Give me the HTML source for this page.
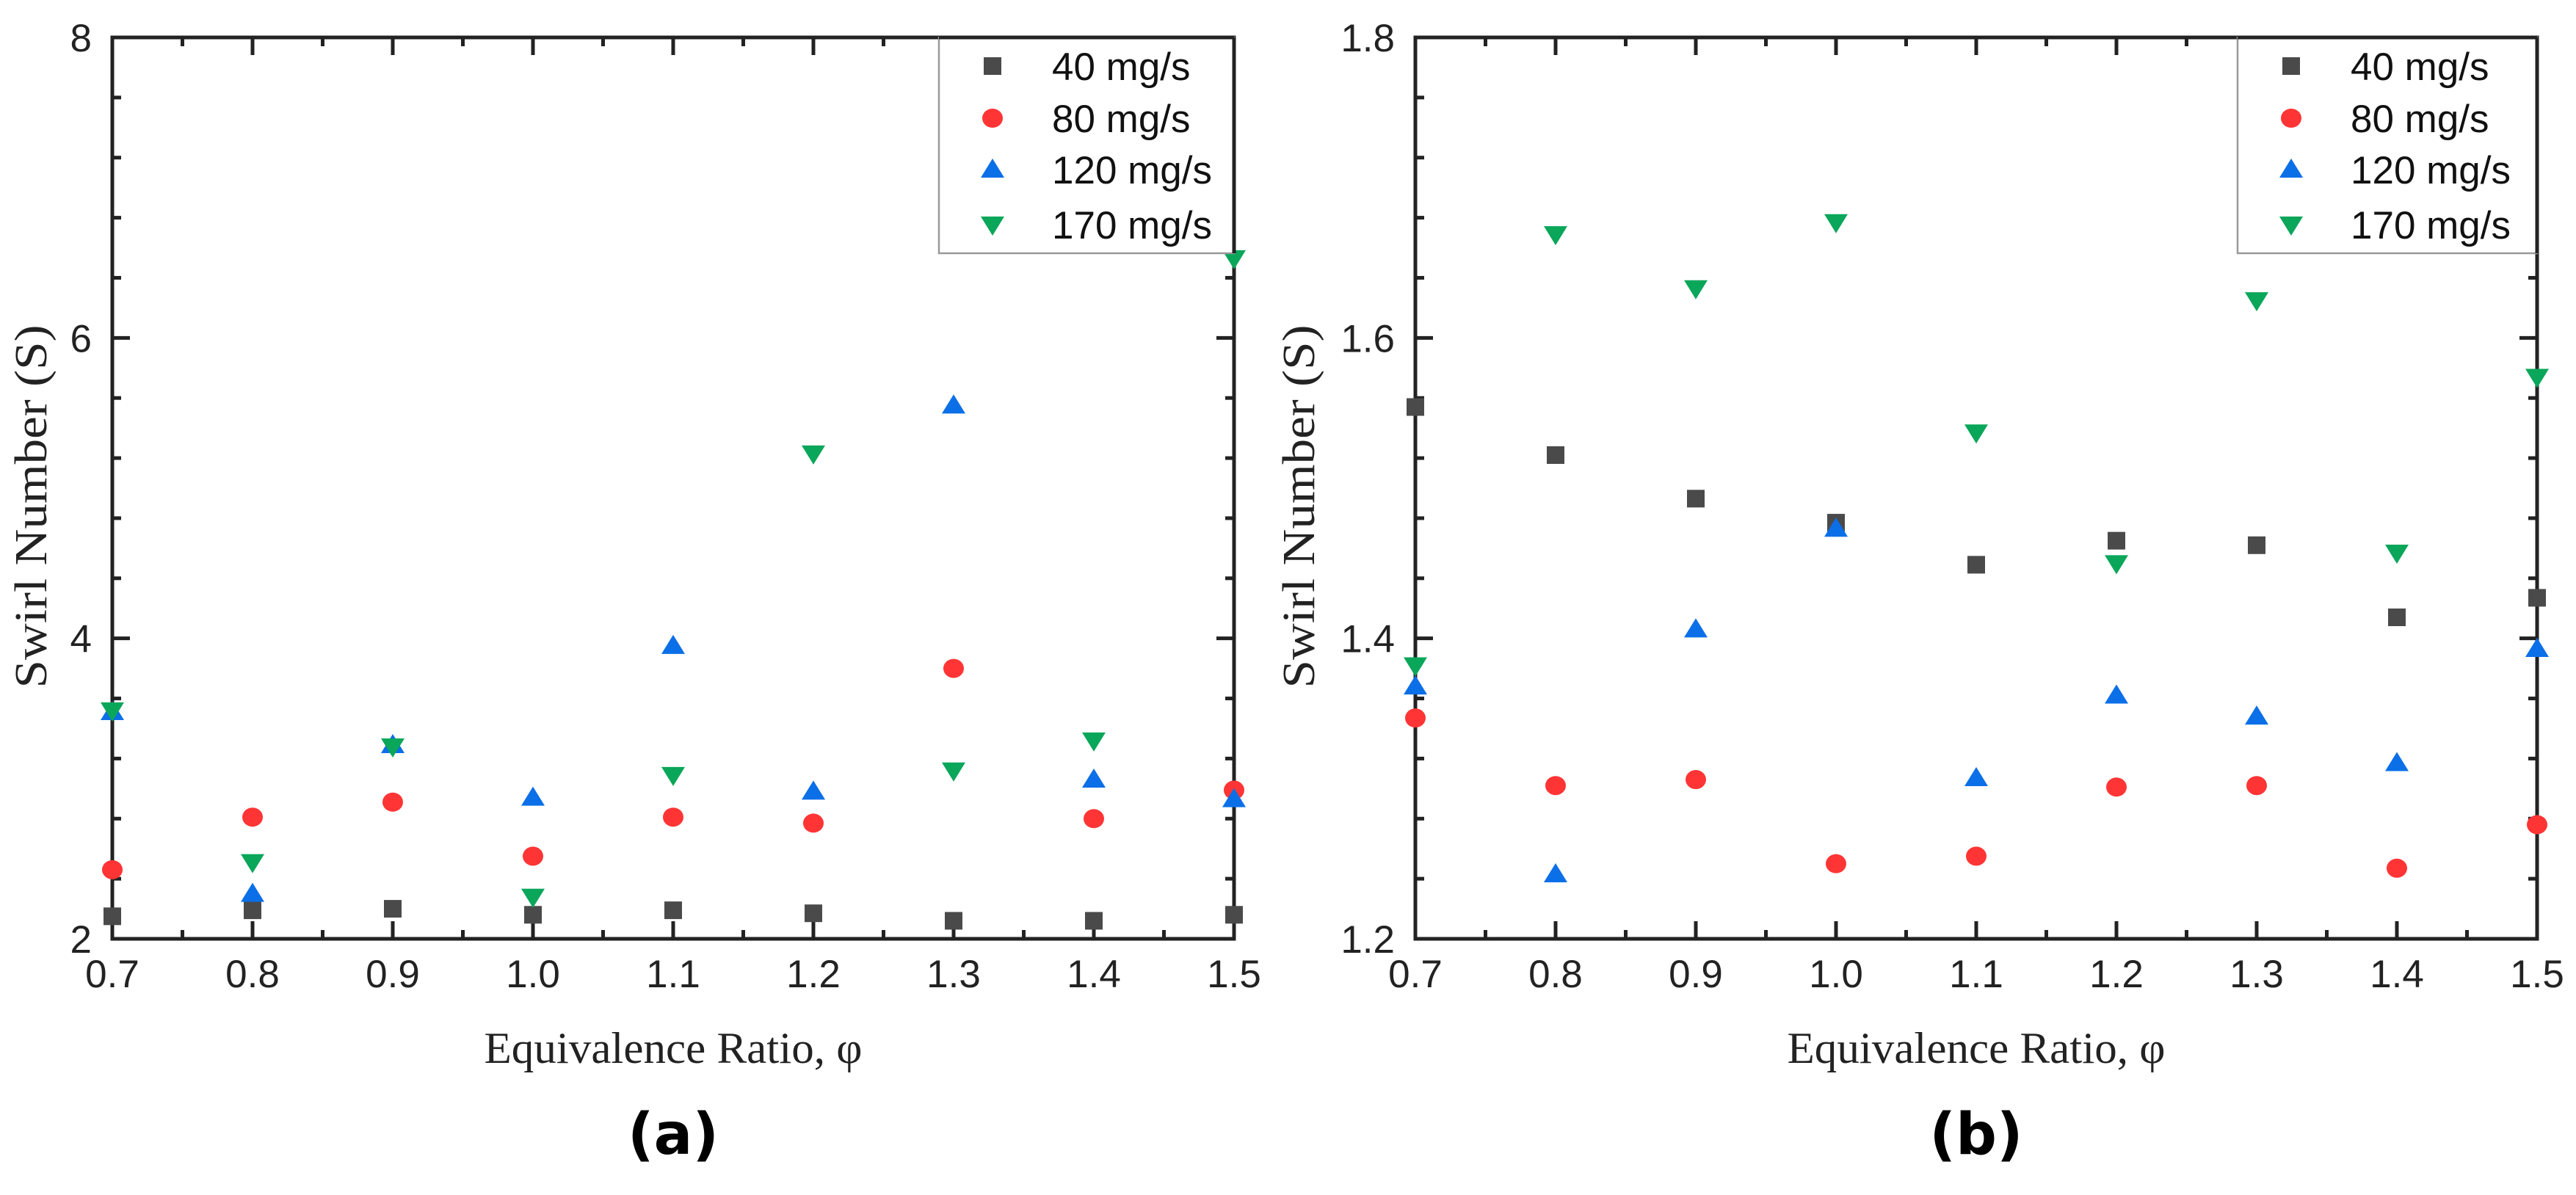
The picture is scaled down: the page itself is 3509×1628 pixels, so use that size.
<!DOCTYPE html>
<html><head><meta charset="utf-8"><style>
html,body{margin:0;padding:0;background:#fff;}
svg{display:block;}
</style></head><body>
<svg id="fig" width="3509" height="1628" viewBox="0 0 3509 1628" xmlns="http://www.w3.org/2000/svg"></svg>
<script>
const categories = [0.7,0.8,0.9,1.0,1.1,1.2,1.3,1.4,1.5];
const xTickLabels = ["0.7","0.8","0.9","1.0","1.1","1.2","1.3","1.4","1.5"];
const seriesNames = ["40 mg/s","80 mg/s","120 mg/s","170 mg/s"];
const aS40  = [2.15,2.19,2.20,2.16,2.19,2.17,2.12,2.12,2.16];
const aS80  = [2.46,2.81,2.91,2.55,2.81,2.77,3.80,2.80,2.99];
const aS120 = [3.51,2.30,3.29,2.94,3.95,2.98,5.55,3.06,2.93];
const aS170 = [3.52,2.51,3.28,2.28,3.09,5.23,3.12,3.32,6.53];
const bS40  = [1.554,1.522,1.493,1.477,1.449,1.465,1.462,1.414,1.427];
const bS80  = [1.347,1.302,1.306,1.250,1.255,1.301,1.302,1.247,1.276];
const bS120 = [1.368,1.243,1.406,1.473,1.307,1.362,1.348,1.317,1.393];
const bS170 = [1.382,1.669,1.633,1.677,1.537,1.450,1.625,1.457,1.574];
const aYTicks = [2,4,6,8];
const aYTickLabels = ["2","4","6","8"];
const bYTicks = [1.2,1.4,1.6,1.8];
const bYTickLabels = ["1.2","1.4","1.6","1.8"];

const NS="http://www.w3.org/2000/svg";
const svg=document.getElementById('fig');
const colors=["#4a4a4a","#ff3535","#0b6fe8","#0aa65a"];
function mk(tag,attrs,parent){const e=document.createElementNS(NS,tag);for(const k in attrs)e.setAttribute(k,attrs[k]);(parent||svg).appendChild(e);return e;}

function marker(g,type,cx,cy,color){
  let e;
  if(type===0){e=mk('rect',{x:cx-12,y:cy-12,width:24,height:24,fill:color},g);}
  else if(type===1){e=mk('ellipse',{cx:cx,cy:cy,rx:14,ry:13,fill:color},g);}
  else if(type===2){e=mk('polygon',{points:`${cx-16},${cy+11} ${cx+16},${cy+11} ${cx},${cy-15}`,fill:color},g);}
  else {e=mk('polygon',{points:`${cx-16},${cy-11} ${cx+16},${cy-11} ${cx},${cy+15}`,fill:color},g);}
  return e;
}

function panel(o){
  const g=mk('g',{});
  
  
  const X=v=>o.x0+(v-0.7)/0.8*(o.x1-o.x0);
  const Y=v=>o.yb-(v-o.ymin)/(o.ymax-o.ymin)*(o.yb-o.yt);
  const fr=mk('rect',{x:o.x0,y:o.yt,width:o.x1-o.x0,height:o.yb-o.yt,fill:'none',stroke:'#222','stroke-width':5},g);
  
  
  for(let i=0;i<categories.length;i++){
    const x=X(categories[i]);
    mk('line',{x1:x,y1:o.yb,x2:x,y2:o.yb-24,stroke:'#222','stroke-width':5},g);
    mk('line',{x1:x,y1:o.yt,x2:x,y2:o.yt+24,stroke:'#222','stroke-width':5},g);
    const t=mk('text',{x:x,y:o.yb+66,'text-anchor':'middle','font-family':'Liberation Sans, Arial, sans-serif','font-size':53,fill:'#222'},g);
    t.textContent=xTickLabels[i];
    
    
    if(i<categories.length-1){
      const xm=X(categories[i]+0.05);
      mk('line',{x1:xm,y1:o.yb,x2:xm,y2:o.yb-12,stroke:'#222','stroke-width':5},g);
      mk('line',{x1:xm,y1:o.yt,x2:xm,y2:o.yt+12,stroke:'#222','stroke-width':5},g);
    }
  }
  for(let i=0;i<o.yTicks.length;i++){
    const y=Y(o.yTicks[i]);
    mk('line',{x1:o.x0,y1:y,x2:o.x0+24,y2:y,stroke:'#222','stroke-width':5},g);
    mk('line',{x1:o.x1,y1:y,x2:o.x1-24,y2:y,stroke:'#222','stroke-width':5},g);
    const t=mk('text',{x:o.x0-28,y:y+19,'text-anchor':'end','font-family':'Liberation Sans, Arial, sans-serif','font-size':53,fill:'#222'},g);
    t.textContent=o.yLabels[i];
    
    
    if(i<o.yTicks.length-1){
      const step=(o.yTicks[i+1]-o.yTicks[i])/5;
      for(let k=1;k<5;k++){
        const ym=Y(o.yTicks[i]+k*step);
        mk('line',{x1:o.x0,y1:ym,x2:o.x0+12,y2:ym,stroke:'#222','stroke-width':5},g);
        mk('line',{x1:o.x1,y1:ym,x2:o.x1-12,y2:ym,stroke:'#222','stroke-width':5},g);
      }
    }
  }
  o.series.forEach((arr,s)=>{
    const sg=mk('g',{},g);
    
    
    arr.forEach((v,i)=>{
      const m=marker(sg,s,X(categories[i]),Y(v),colors[s]);
      
      
    });
  });
  const lg=mk('g',{},g);
  
  
  mk('rect',{x:o.lx,y:o.yt,width:o.x1-o.lx,height:345-o.yt,fill:'#fff',stroke:'#999','stroke-width':2.5},lg);
  mk('line',{x1:o.lx,y1:o.yt,x2:o.x1,y2:o.yt,stroke:'#222','stroke-width':5},lg);
  mk('line',{x1:o.x1,y1:o.yt,x2:o.x1,y2:345,stroke:'#222','stroke-width':5},lg);
  const ly=[90,161,231,306];
  seriesNames.forEach((n,s)=>{
    const e=mk('g',{},lg);
    
    
    marker(e,s,o.lx+73,ly[s],colors[s]);
    const t=mk('text',{x:o.lx+154,y:ly[s]+19,'font-family':'Liberation Sans, Arial, sans-serif','font-size':53,fill:'#111'},e);
    t.textContent=n;
  });
  const cx=(o.x0+o.x1)/2;
  const xt=mk('text',{x:cx,y:1448,'text-anchor':'middle','font-family':'Liberation Serif, serif','font-size':60,fill:'#222',textLength:515,lengthAdjust:'spacingAndGlyphs'},g);
  xt.textContent='Equivalence Ratio, φ';
  
  
  const yx=o.x0-o.yOff, yy=690;
  const yt=mk('text',{x:yx,y:yy,'text-anchor':'middle','font-family':'Liberation Serif, serif','font-size':62,fill:'#222',transform:`rotate(-90 ${yx} ${yy})`,textLength:495,lengthAdjust:'spacingAndGlyphs'},g);
  yt.textContent='Swirl Number (S)';
  
  
  const pl=mk('text',{x:cx,y:1572,'text-anchor':'middle','font-family':'DejaVu Sans, Liberation Sans, sans-serif','font-weight':'bold','font-size':78,fill:'#000'},g);
  pl.textContent=o.label;
  
  
}

panel({name:'panel-a',x0:153,x1:1681,yt:51,yb:1279,ymin:2,ymax:8,yTicks:aYTicks,yLabels:aYTickLabels,series:[aS40,aS80,aS120,aS170],lx:1279,label:'(a)',yOff:90});
panel({name:'panel-b',x0:1928,x1:3456,yt:51,yb:1279,ymin:1.2,ymax:1.8,yTicks:bYTicks,yLabels:bYTickLabels,series:[bS40,bS80,bS120,bS170],lx:3048,label:'(b)',yOff:138});
</script>
</body></html>
